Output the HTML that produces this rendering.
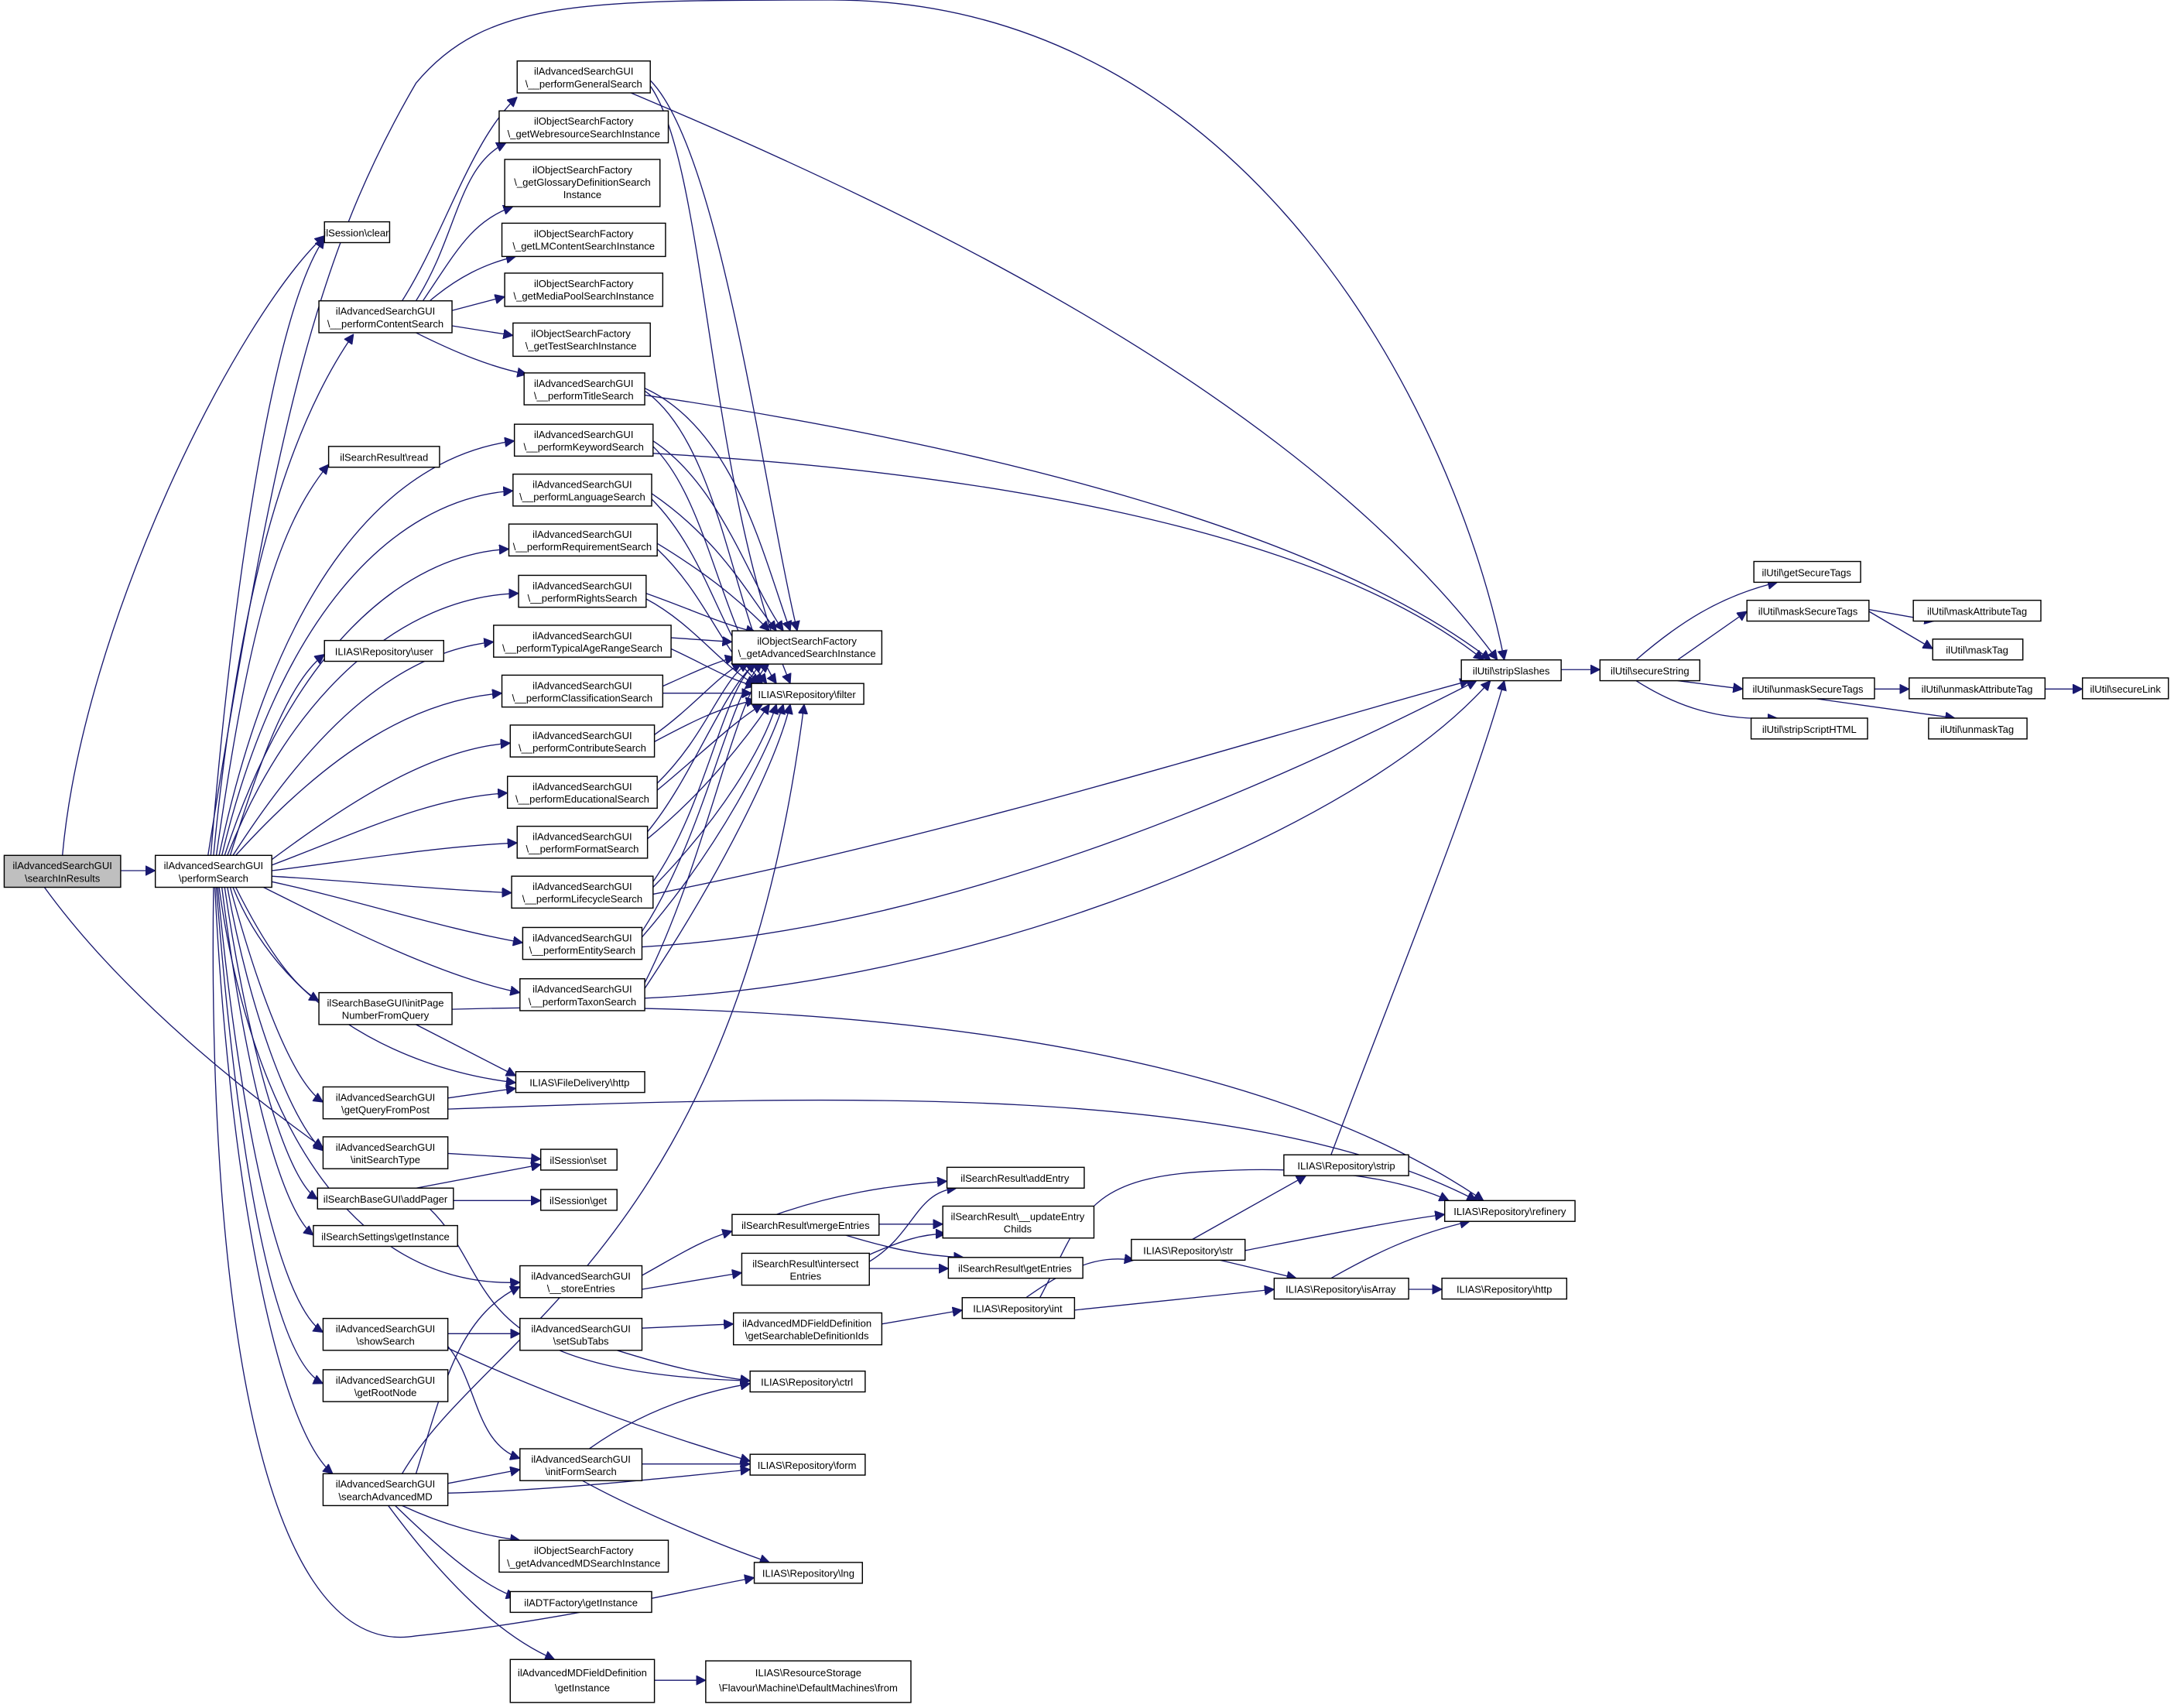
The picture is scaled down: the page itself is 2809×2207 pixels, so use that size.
<!DOCTYPE html>
<html><head><meta charset="utf-8"><style>
html,body{margin:0;padding:0;background:#fff;}
svg{display:block}
text{font-family:"Liberation Sans",sans-serif;font-size:7.3px;fill:#000;text-anchor:middle}
rect{fill:#fff;stroke:#000;stroke-width:0.8}
path{fill:none;stroke:#191970;stroke-width:0.75}
</style></head><body>
<svg width="2809" height="2207" viewBox="0 0 1568 1232" xmlns="http://www.w3.org/2000/svg">
<defs><marker id="a" viewBox="0 0 10 10" refX="10" refY="5" markerWidth="7" markerHeight="7" markerUnits="userSpaceOnUse" orient="auto"><path d="M0,0 L10,5 L0,10 z" style="fill:#191970;stroke:#191970"/></marker></defs>
<g marker-end="url(#a)">
<path d="M87,628 L112,628"/>
<path d="M45,617 C60,450 170,230 234,170"/>
<path d="M32,640 C90,720 180,790 233,828"/>
<path d="M150,617 C200,300 230,180 300,60 C350,0 420,0 600,0 C900,0 1050,300 1085,476"/>
<path d="M152,617 C170,400 200,220 234,172"/>
<path d="M154,617 C170,450 200,320 255,241"/>
<path d="M156,617 C180,450 200,380 237,335"/>
<path d="M158,617 C200,420 280,330 371,318"/>
<path d="M160,617 C200,450 280,360 370,354"/>
<path d="M162,617 C210,470 290,400 367,396"/>
<path d="M164,617 C210,500 290,430 374,428"/>
<path d="M166,617 C190,540 210,490 234,472"/>
<path d="M168,617 C230,520 290,470 356,463"/>
<path d="M170,617 C240,540 300,505 362,500"/>
<path d="M196,620 C250,580 310,540 368,536"/>
<path d="M196,624 C260,600 310,575 366,572"/>
<path d="M196,628 C260,620 320,610 373,608"/>
<path d="M196,632 C260,636 320,642 369,644"/>
<path d="M196,636 C260,650 320,670 377,680"/>
<path d="M190,640 C250,670 320,705 375,716"/>
<path d="M170,640 C190,680 210,710 230,722"/>
<path d="M168,640 C200,720 280,770 372,781"/>
<path d="M166,640 C185,710 210,780 233,795"/>
<path d="M164,640 C180,730 210,810 233,830"/>
<path d="M162,640 C178,750 205,850 229,865"/>
<path d="M160,640 C175,760 200,870 226,891"/>
<path d="M158,640 C180,800 250,930 375,925"/>
<path d="M157,640 C172,800 200,940 233,961"/>
<path d="M156,640 C170,820 195,980 233,998"/>
<path d="M155,640 C165,850 200,1030 240,1063"/>
<path d="M154,640 C150,900 180,1200 300,1180 C400,1170 480,1150 544,1138"/>
<path d="M290,217 C320,170 340,100 373,70"/>
<path d="M300,217 C330,170 330,120 365,103"/>
<path d="M305,217 C330,180 340,160 370,149"/>
<path d="M310,217 C330,200 350,190 372,185"/>
<path d="M326,224 L364,214"/>
<path d="M326,235 L370,242"/>
<path d="M300,240 C330,255 355,265 380,270"/>
<path d="M469,58 C520,110 550,350 575,455"/>
<path d="M469,62 C510,120 510,350 570,493"/>
<path d="M455,67 C700,170 950,300 1080,476"/>
<path d="M465,280 C530,310 550,400 570,455"/>
<path d="M465,282 C520,320 530,450 560,493"/>
<path d="M465,285 C700,320 950,380 1075,476"/>
<path d="M471,318 C520,350 540,420 565,455"/>
<path d="M471,322 C510,360 520,450 553,493"/>
<path d="M471,327 C700,340 950,380 1070,476"/>
<path d="M470,356 C520,390 540,430 560,455"/>
<path d="M470,360 C510,400 520,460 550,493"/>
<path d="M474,392 C520,420 540,440 555,455"/>
<path d="M474,396 C510,430 520,470 548,493"/>
<path d="M466,428 C500,440 520,450 545,456"/>
<path d="M466,432 C500,450 520,480 545,494"/>
<path d="M484,460 L528,463"/>
<path d="M484,468 C510,480 525,490 545,495"/>
<path d="M478,495 C500,485 515,478 530,474"/>
<path d="M478,500 L542,500"/>
<path d="M472,530 C500,510 515,490 535,478"/>
<path d="M472,535 C500,520 520,510 545,505"/>
<path d="M474,565 C510,530 520,490 540,478"/>
<path d="M474,570 C510,540 530,520 550,508"/>
<path d="M467,600 C500,560 520,500 545,478"/>
<path d="M467,605 C510,570 540,530 555,508"/>
<path d="M471,636 C510,580 520,500 545,478"/>
<path d="M471,640 C520,590 550,540 560,508"/>
<path d="M471,645 C700,600 950,520 1060,491"/>
<path d="M463,672 C510,600 525,500 550,478"/>
<path d="M463,676 C520,610 555,540 565,508"/>
<path d="M463,683 C700,670 950,550 1065,491"/>
<path d="M465,709 C510,620 530,500 555,478"/>
<path d="M465,713 C520,630 560,550 570,508"/>
<path d="M465,720 C700,710 980,600 1075,491"/>
<path d="M300,739 L372,776"/>
<path d="M326,728 C600,720 900,750 1070,866"/>
<path d="M323,792 L372,785"/>
<path d="M323,800 C600,790 900,780 1065,866"/>
<path d="M323,832 L390,836"/>
<path d="M300,857 L390,840"/>
<path d="M327,866 L390,866"/>
<path d="M310,872 C360,920 330,990 541,996"/>
<path d="M463,920 C490,905 505,895 528,888"/>
<path d="M463,930 L535,918"/>
<path d="M323,962 L375,962"/>
<path d="M318,966 C345,990 340,1040 375,1052"/>
<path d="M318,970 C380,1000 460,1030 541,1054"/>
<path d="M463,958 L529,955"/>
<path d="M445,974 C480,985 510,992 541,996"/>
<path d="M425,1045 C460,1020 500,1005 541,998"/>
<path d="M463,1056 L541,1056"/>
<path d="M420,1068 C460,1090 520,1115 555,1127"/>
<path d="M323,1070 L375,1060"/>
<path d="M323,1077 C400,1075 480,1066 541,1060"/>
<path d="M290,1086 C320,1100 350,1108 375,1111"/>
<path d="M285,1086 C320,1120 350,1145 372,1152"/>
<path d="M280,1086 C320,1140 360,1180 400,1197"/>
<path d="M300,1063 C320,1000 330,950 375,928"/>
<path d="M290,1063 C350,960 530,900 580,508"/>
<path d="M472,1212 L509,1212"/>
<path d="M560,876 C600,862 640,855 683,852"/>
<path d="M634,883 L680,883"/>
<path d="M610,891 C640,900 665,906 695,907"/>
<path d="M627,910 C660,890 660,860 690,857"/>
<path d="M627,905 C650,895 665,890 682,890"/>
<path d="M627,915 L684,915"/>
<path d="M636,955 L694,945"/>
<path d="M740,936 C770,915 790,905 818,909"/>
<path d="M750,936 C780,880 780,850 870,845 C950,840 1010,850 1045,866"/>
<path d="M775,945 L919,930"/>
<path d="M860,894 L942,848"/>
<path d="M898,902 C960,890 1010,880 1042,876"/>
<path d="M880,909 L935,922"/>
<path d="M960,922 C990,905 1020,890 1060,881"/>
<path d="M1016,930 L1040,930"/>
<path d="M960,833 C1010,700 1060,580 1085,491"/>
<path d="M1126,483 L1154,483"/>
<path d="M1180,476 C1210,450 1240,430 1282,420"/>
<path d="M1210,476 L1260,441"/>
<path d="M1210,491 L1257,497"/>
<path d="M1180,491 C1210,510 1240,520 1282,518"/>
<path d="M1310,433 L1395,448"/>
<path d="M1348,441 L1394,468"/>
<path d="M1352,497 L1377,497"/>
<path d="M1310,504 L1410,518"/>
<path d="M1475,497 L1502,497"/>
</g>
<rect x="3" y="617" width="84" height="23" style="fill:#bfbfbf"/><text x="45" y="627">ilAdvancedSearchGUI</text><text x="45" y="636">\searchInResults</text>
<rect x="112" y="617" width="84" height="23"/><text x="154" y="627">ilAdvancedSearchGUI</text><text x="154" y="636">\performSearch</text>
<rect x="373" y="44" width="96" height="23"/><text x="421" y="54">ilAdvancedSearchGUI</text><text x="421" y="63">\__performGeneralSearch</text>
<rect x="360" y="80" width="122" height="23"/><text x="421" y="90">ilObjectSearchFactory</text><text x="421" y="99">\_getWebresourceSearchInstance</text>
<rect x="364" y="115" width="112" height="34"/><text x="420" y="125">ilObjectSearchFactory</text><text x="420" y="134">\_getGlossaryDefinitionSearch</text><text x="420" y="143">Instance</text>
<rect x="362" y="161" width="118" height="24"/><text x="421" y="171">ilObjectSearchFactory</text><text x="421" y="180">\_getLMContentSearchInstance</text>
<rect x="364" y="197" width="114" height="24"/><text x="421" y="207">ilObjectSearchFactory</text><text x="421" y="216">\_getMediaPoolSearchInstance</text>
<rect x="370" y="233" width="99" height="24"/><text x="419" y="243">ilObjectSearchFactory</text><text x="419" y="252">\_getTestSearchInstance</text>
<rect x="234" y="160" width="47" height="15"/><text x="257" y="170.5">ilSession\clear</text>
<rect x="230" y="217" width="96" height="23"/><text x="278" y="227">ilAdvancedSearchGUI</text><text x="278" y="236">\__performContentSearch</text>
<rect x="378" y="269" width="87" height="23"/><text x="421" y="279">ilAdvancedSearchGUI</text><text x="421" y="288">\__performTitleSearch</text>
<rect x="237" y="322" width="80" height="15"/><text x="277" y="332.5">ilSearchResult\read</text>
<rect x="371" y="306" width="100" height="23"/><text x="421" y="316">ilAdvancedSearchGUI</text><text x="421" y="325">\__performKeywordSearch</text>
<rect x="370" y="342" width="100" height="23"/><text x="420" y="352">ilAdvancedSearchGUI</text><text x="420" y="361">\__performLanguageSearch</text>
<rect x="367" y="378" width="107" height="23"/><text x="420" y="388">ilAdvancedSearchGUI</text><text x="420" y="397">\__performRequirementSearch</text>
<rect x="374" y="415" width="92" height="23"/><text x="420" y="425">ilAdvancedSearchGUI</text><text x="420" y="434">\__performRightsSearch</text>
<rect x="234" y="462" width="86" height="15"/><text x="277" y="472.5">ILIAS\Repository\user</text>
<rect x="356" y="451" width="128" height="23"/><text x="420" y="461">ilAdvancedSearchGUI</text><text x="420" y="470">\__performTypicalAgeRangeSearch</text>
<rect x="528" y="455" width="108" height="24"/><text x="582" y="465">ilObjectSearchFactory</text><text x="582" y="474">\_getAdvancedSearchInstance</text>
<rect x="542" y="493" width="81" height="15"/><text x="582" y="503.5">ILIAS\Repository\filter</text>
<rect x="362" y="487" width="116" height="23"/><text x="420" y="497">ilAdvancedSearchGUI</text><text x="420" y="506">\__performClassificationSearch</text>
<rect x="368" y="523" width="104" height="23"/><text x="420" y="533">ilAdvancedSearchGUI</text><text x="420" y="542">\__performContributeSearch</text>
<rect x="366" y="560" width="108" height="23"/><text x="420" y="570">ilAdvancedSearchGUI</text><text x="420" y="579">\__performEducationalSearch</text>
<rect x="373" y="596" width="94" height="23"/><text x="420" y="606">ilAdvancedSearchGUI</text><text x="420" y="615">\__performFormatSearch</text>
<rect x="369" y="632" width="102" height="23"/><text x="420" y="642">ilAdvancedSearchGUI</text><text x="420" y="651">\__performLifecycleSearch</text>
<rect x="377" y="669" width="86" height="23"/><text x="420" y="679">ilAdvancedSearchGUI</text><text x="420" y="688">\__performEntitySearch</text>
<rect x="375" y="706" width="90" height="23"/><text x="420" y="716">ilAdvancedSearchGUI</text><text x="420" y="725">\__performTaxonSearch</text>
<rect x="230" y="716" width="96" height="23"/><text x="278" y="726">ilSearchBaseGUI\initPage</text><text x="278" y="735">NumberFromQuery</text>
<rect x="372" y="773" width="93" height="15"/><text x="418" y="783.5">ILIAS\FileDelivery\http</text>
<rect x="233" y="784" width="90" height="23"/><text x="278" y="794">ilAdvancedSearchGUI</text><text x="278" y="803">\getQueryFromPost</text>
<rect x="233" y="820" width="90" height="23"/><text x="278" y="830">ilAdvancedSearchGUI</text><text x="278" y="839">\initSearchType</text>
<rect x="390" y="829" width="55" height="15"/><text x="417" y="839.5">ilSession\set</text>
<rect x="229" y="857" width="98" height="15"/><text x="278" y="867.5">ilSearchBaseGUI\addPager</text>
<rect x="390" y="858" width="55" height="15"/><text x="417" y="868.5">ilSession\get</text>
<rect x="226" y="884" width="104" height="15"/><text x="278" y="894.5">ilSearchSettings\getInstance</text>
<rect x="375" y="913" width="88" height="23"/><text x="419" y="923">ilAdvancedSearchGUI</text><text x="419" y="932">\__storeEntries</text>
<rect x="233" y="951" width="90" height="23"/><text x="278" y="961">ilAdvancedSearchGUI</text><text x="278" y="970">\showSearch</text>
<rect x="233" y="988" width="90" height="23"/><text x="278" y="998">ilAdvancedSearchGUI</text><text x="278" y="1007">\getRootNode</text>
<rect x="233" y="1063" width="90" height="23"/><text x="278" y="1073">ilAdvancedSearchGUI</text><text x="278" y="1082">\searchAdvancedMD</text>
<rect x="360" y="1111" width="122" height="23"/><text x="421" y="1121">ilObjectSearchFactory</text><text x="421" y="1130">\_getAdvancedMDSearchInstance</text>
<rect x="368" y="1148" width="102" height="15"/><text x="419" y="1158.5">ilADTFactory\getInstance</text>
<rect x="368" y="1197" width="104" height="31"/><text x="420" y="1209">ilAdvancedMDFieldDefinition</text><text x="420" y="1220">\getInstance</text>
<rect x="375" y="951" width="88" height="23"/><text x="419" y="961">ilAdvancedSearchGUI</text><text x="419" y="970">\setSubTabs</text>
<rect x="375" y="1045" width="88" height="23"/><text x="419" y="1055">ilAdvancedSearchGUI</text><text x="419" y="1064">\initFormSearch</text>
<rect x="541" y="989" width="83" height="15"/><text x="582" y="999.5">ILIAS\Repository\ctrl</text>
<rect x="541" y="1049" width="83" height="15"/><text x="582" y="1059.5">ILIAS\Repository\form</text>
<rect x="544" y="1127" width="78" height="15"/><text x="583" y="1137.5">ILIAS\Repository\lng</text>
<rect x="509" y="1198" width="148" height="30"/><text x="583" y="1209">ILIAS\ResourceStorage</text><text x="583" y="1220">\Flavour\Machine\DefaultMachines\from</text>
<rect x="528" y="876" width="106" height="15"/><text x="581" y="886.5">ilSearchResult\mergeEntries</text>
<rect x="535" y="904" width="92" height="23"/><text x="581" y="914">ilSearchResult\intersect</text><text x="581" y="923">Entries</text>
<rect x="683" y="842" width="99" height="15"/><text x="732" y="852.5">ilSearchResult\addEntry</text>
<rect x="680" y="870" width="109" height="23"/><text x="734" y="880">ilSearchResult\__updateEntry</text><text x="734" y="889">Childs</text>
<rect x="684" y="907" width="97" height="15"/><text x="732" y="917.5">ilSearchResult\getEntries</text>
<rect x="529" y="947" width="107" height="23"/><text x="582" y="957">ilAdvancedMDFieldDefinition</text><text x="582" y="966">\getSearchableDefinitionIds</text>
<rect x="694" y="936" width="81" height="15"/><text x="734" y="946.5">ILIAS\Repository\int</text>
<rect x="816" y="894" width="82" height="15"/><text x="857" y="904.5">ILIAS\Repository\str</text>
<rect x="926" y="833" width="90" height="15"/><text x="971" y="843.5">ILIAS\Repository\strip</text>
<rect x="919" y="922" width="97" height="15"/><text x="967" y="932.5">ILIAS\Repository\isArray</text>
<rect x="1042" y="866" width="94" height="15"/><text x="1089" y="876.5">ILIAS\Repository\refinery</text>
<rect x="1040" y="922" width="90" height="15"/><text x="1085" y="932.5">ILIAS\Repository\http</text>
<rect x="1054" y="476" width="72" height="15"/><text x="1090" y="486.5">ilUtil\stripSlashes</text>
<rect x="1154" y="476" width="72" height="15"/><text x="1190" y="486.5">ilUtil\secureString</text>
<rect x="1265" y="405" width="77" height="15"/><text x="1303" y="415.5">ilUtil\getSecureTags</text>
<rect x="1260" y="433" width="88" height="15"/><text x="1304" y="443.5">ilUtil\maskSecureTags</text>
<rect x="1257" y="489" width="95" height="15"/><text x="1304" y="499.5">ilUtil\unmaskSecureTags</text>
<rect x="1263" y="518" width="84" height="15"/><text x="1305" y="528.5">ilUtil\stripScriptHTML</text>
<rect x="1380" y="433" width="92" height="15"/><text x="1426" y="443.5">ilUtil\maskAttributeTag</text>
<rect x="1394" y="461" width="65" height="15"/><text x="1426" y="471.5">ilUtil\maskTag</text>
<rect x="1377" y="489" width="98" height="15"/><text x="1426" y="499.5">ilUtil\unmaskAttributeTag</text>
<rect x="1391" y="518" width="71" height="15"/><text x="1426" y="528.5">ilUtil\unmaskTag</text>
<rect x="1502" y="489" width="62" height="15"/><text x="1533" y="499.5">ilUtil\secureLink</text>
</svg>
</body></html>
